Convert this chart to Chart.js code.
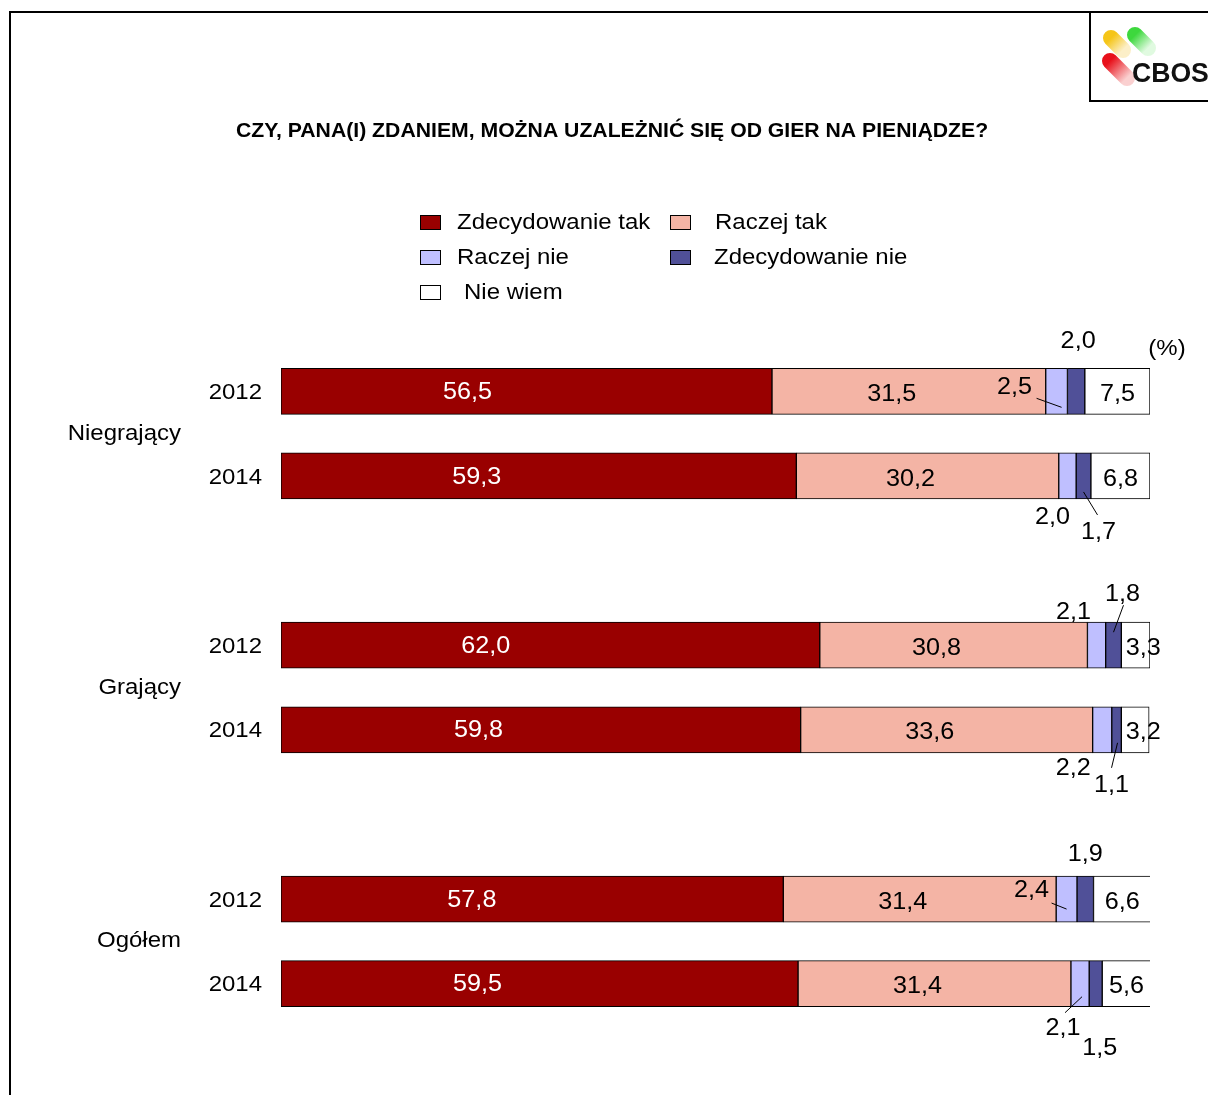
<!DOCTYPE html>
<html>
<head>
<meta charset="utf-8">
<script src="https://cdn.jsdelivr.net/npm/chart.js@4"></script>
<style>
  body { margin: 0; background: #fff; }
  #wrap { position: relative; width: 1208px; height: 1095px; }
</style>
</head>
<body>
<div id="wrap"><canvas id="chart" width="1208" height="1095"></canvas></div>
<script>
const title = "CZY, PANA(I) ZDANIEM, MOŻNA UZALEŻNIĆ SIĘ OD GIER NA PIENIĄDZE?";
const years = ["2012", "2014", "", "2012", "2014", "", "2012", "2014"];
const groups = ["Niegrający", "Grający", "Ogółem"];
const seriesNames = ["Zdecydowanie tak", "Raczej tak", "Raczej nie", "Zdecydowanie nie", "Nie wiem"];

const zdecydowanieTak = [56.5, 59.3, null, 62.0, 59.8, null, 57.8, 59.5];
const raczejTak = [31.5, 30.2, null, 30.8, 33.6, null, 31.4, 31.4];
const raczejNie = [2.5, 2.0, null, 2.1, 2.2, null, 2.4, 2.1];
const zdecydowanieNie = [2.0, 1.7, null, 1.8, 1.1, null, 1.9, 1.5];
const nieWiem = [7.5, 6.8, null, 3.3, 3.2, null, 6.6, 5.6];

const colors = ["#990000", "#F4B4A5", "#BFBFFF", "#505098", "#FFFFFF"];
const FONT = "Liberation Sans, Arial, sans-serif";

// where the small values go, relative to the segment centre (dx, dy) and optional leader line
const smallLabels = [
  [{ ds: 2, dx: -42, dy: -4, line: [-20, 7, 5, 16] }, { ds: 3, dx: 2, dy: -50 }],
  [{ ds: 2, dx: -15, dy: 41 }, { ds: 3, dx: 15, dy: 56, line: [0, 16, 14, 39] }],
  null,
  [{ ds: 2, dx: -23, dy: -33 }, { ds: 3, dx: 9, dy: -51, line: [10, -40, 0, -13] }],
  [{ ds: 2, dx: -29, dy: 39 }, { ds: 3, dx: -5, dy: 56, line: [1, 13, -5, 38] }],
  null,
  [{ ds: 2, dx: -35, dy: -9, line: [-15, 4, 0, 10] }, { ds: 3, dx: 0, dy: -45 }],
  [{ ds: 2, dx: -17, dy: 45, line: [-15, 29, 2, 13] }, { ds: 3, dx: 4, dy: 65 }],
];

function fmt(v) {
  return v.toFixed(1).replace(".", ",");
}

// the original text is a bit wider than Liberation Sans, so stretch it horizontally
function text(ctx, str, x, y, sx) {
  ctx.save();
  ctx.translate(x, y);
  ctx.scale(sx, 1);
  ctx.fillText(str, 0, 0);
  ctx.restore();
}

function drawLogo(ctx) {
  ctx.strokeStyle = "#000";
  ctx.lineWidth = 2;
  ctx.strokeRect(1090, 12, 130, 89);
  const pill = (x1, y1, x2, y2, c1, c2) => {
    const g = ctx.createLinearGradient(x1, y1, x2, y2);
    g.addColorStop(0, c1);
    g.addColorStop(1, c2);
    ctx.strokeStyle = g;
    ctx.lineCap = "round";
    ctx.lineWidth = 16;
    ctx.beginPath();
    ctx.moveTo(x1, y1);
    ctx.lineTo(x2, y2);
    ctx.stroke();
  };
  pill(1111, 38, 1123, 50, "#F5C518", "#FCEFC8");
  pill(1135, 35, 1148, 48, "#3DD83D", "#E0FAE0");
  pill(1110, 61, 1127, 78, "#E8101A", "#FAD0D0");
  ctx.lineCap = "butt";
  ctx.fillStyle = "#111";
  ctx.font = "bold 28px " + FONT;
  ctx.textAlign = "left";
  ctx.textBaseline = "alphabetic";
  text(ctx, "CBOS", 1132, 82, 0.95);
}

const decorPlugin = {
  id: "decor",
  beforeDraw(chart) {
    const ctx = chart.ctx;
    ctx.save();
    ctx.fillStyle = "#fff";
    ctx.fillRect(0, 0, chart.width, chart.height);
    // frame
    ctx.strokeStyle = "#000";
    ctx.lineWidth = 2;
    ctx.beginPath();
    ctx.moveTo(10, 1095);
    ctx.lineTo(10, 12);
    ctx.lineTo(1208, 12);
    ctx.stroke();
    drawLogo(ctx);

    // title
    ctx.fillStyle = "#000";
    ctx.font = "bold 20px " + FONT;
    ctx.textAlign = "center";
    ctx.textBaseline = "middle";
    text(ctx, title, 612, 131, 1.06);

    // legend
    const legendPos = [
      [420, 222, 457], [670, 222, 715],
      [420, 257, 457], [670, 257, 714],
      [420, 292, 464],
    ];
    ctx.font = "22px " + FONT;
    ctx.textAlign = "left";
    seriesNames.forEach((name, i) => {
      const [bx, by, tx] = legendPos[i];
      ctx.fillStyle = colors[i];
      ctx.fillRect(bx, by - 7, 21, 15);
      ctx.strokeStyle = "#000";
      ctx.lineWidth = 1;
      ctx.strokeRect(bx + 0.5, by - 6.5, 20, 14);
      ctx.fillStyle = "#000";
      text(ctx, name, tx, by + 1, 1.09);
    });

    ctx.textAlign = "center";
    text(ctx, "(%)", 1167, 349, 1.09);
    ctx.restore();
  },
  afterDatasetsDraw(chart) {
    const ctx = chart.ctx;
    const yScale = chart.scales.y;
    ctx.save();
    ctx.textBaseline = "middle";
    ctx.font = "22px " + FONT;

    // year and group labels
    ctx.fillStyle = "#000";
    ctx.textAlign = "right";
    years.forEach((yr, i) => {
      if (yr) text(ctx, yr, 262, yScale.getPixelForValue(i) + 1.5, 1.09);
    });
    groups.forEach((g, k) => {
      const y = (yScale.getPixelForValue(k * 3) + yScale.getPixelForValue(k * 3 + 1)) / 2;
      text(ctx, g, 181, y, 1.09);
    });

    // value labels
    const seg = (ds, i) => chart.getDatasetMeta(ds).data[i].getProps(["x", "base", "y"], true);
    ctx.font = "24px " + FONT;
    ctx.textAlign = "center";
    const sx = 1.05;
    years.forEach((yr, i) => {
      if (!yr) return;
      let p = seg(0, i);
      ctx.fillStyle = "#fff";
      text(ctx, fmt(zdecydowanieTak[i]), p.base + 0.38 * (p.x - p.base), p.y + 1, sx);
      p = seg(1, i);
      ctx.fillStyle = "#000";
      text(ctx, fmt(raczejTak[i]), (p.x + p.base) / 2 - 17, p.y + 3, sx);
      p = seg(4, i);
      const cx = Math.max((p.x + p.base) / 2, p.base + 22);
      text(ctx, fmt(nieWiem[i]), cx, p.y + 3, sx);

      (smallLabels[i] || []).forEach((s) => {
        const q = seg(s.ds, i);
        const mx = (q.x + q.base) / 2;
        const vals = s.ds === 2 ? raczejNie : zdecydowanieNie;
        ctx.fillStyle = "#000";
        text(ctx, fmt(vals[i]), mx + s.dx, q.y + s.dy, sx);
        if (s.line) {
          ctx.strokeStyle = "#000";
          ctx.lineWidth = 1;
          ctx.beginPath();
          ctx.moveTo(mx + s.line[0], q.y + s.line[1]);
          ctx.lineTo(mx + s.line[2], q.y + s.line[3]);
          ctx.stroke();
        }
      });
    });
    ctx.restore();
  },
};

const seriesData = [zdecydowanieTak, raczejTak, raczejNie, zdecydowanieNie, nieWiem];

const ctx = document.getElementById("chart").getContext("2d");
new Chart(ctx, {
  type: "bar",
  data: {
    labels: years,
    datasets: seriesNames.map((name, i) => ({
      label: name,
      data: seriesData[i],
      backgroundColor: colors[i],
      borderColor: "#000",
      borderWidth: 1,
      borderSkipped: false,
      barThickness: 46,
    })),
  },
  options: {
    indexAxis: "y",
    responsive: false,
    animation: false,
    layout: {
      padding: { left: 281, right: 58, top: 349, bottom: 69 },
    },
    scales: {
      x: { stacked: true, min: 0, max: 100, display: false },
      y: { stacked: true, display: false },
    },
    plugins: {
      legend: { display: false },
      tooltip: { enabled: false },
    },
  },
  plugins: [decorPlugin],
});
</script>
</body>
</html>
